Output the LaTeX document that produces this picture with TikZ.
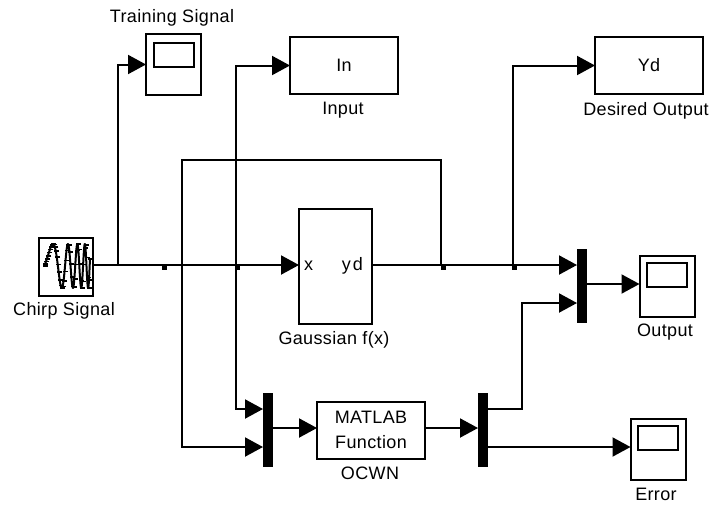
\documentclass[tikz,border=0pt]{standalone}
\usepackage{fontspec}
\setmainfont[LetterSpace=2]{Liberation Sans}
\usepackage{tikz}
\usetikzlibrary{arrows.meta,plotmarks}

\begin{document}
\begin{tikzpicture}[x=1pt, y=-1pt, >={Triangle[length=18pt,width=19pt]}, line width=2pt,
    block/.style={draw, rectangle, inner sep=0pt, outer sep=0pt},
    scopebox/.style={block, minimum width=55pt, minimum height=61pt},
    scopescreen/.style={block, minimum width=40pt, minimum height=24pt},
    gain/.style={block, minimum width=108pt, minimum height=57pt},
    mux/.style={rectangle, fill=black, inner sep=0pt, outer sep=0pt, minimum width=10pt, minimum height=74pt},
    joint/.style={rectangle, fill=black, inner sep=0pt, minimum size=5pt},
    tag/.style={inner sep=0pt, font=\fontsize{18}{22}\selectfont}]
    \useasboundingbox (0,0) rectangle (711,504);

    % Nodes {sources, scopes, blocks}
    \node [block, minimum width=54pt, minimum height=58pt] (chirp)  at (66,267)  {};
    \node [scopebox]                                       (train)  at (173.5,64.5) {};
    \node [scopescreen]                                    (trains) at (174,54.5) {};
    \node [gain, font=\fontsize{18}{22}\selectfont]        (inp)    at (344,65.5) {In};
    \node [gain, font=\fontsize{18}{22}\selectfont]        (yd)     at (649,65.5) {Yd};
    \node [block, minimum width=73pt, minimum height=115pt] (gauss) at (335.5,266.5) {};
    \node [scopebox]                                       (out)    at (667,286) {};
    \node [scopescreen]                                    (outs)   at (667,274.5) {};
    \node [scopebox]                                       (err)    at (658,449) {};
    \node [scopescreen]                                    (errs)   at (658,437.5) {};
    \node [mux] (mux1) at (268,430) {};
    \node [mux] (mux2) at (483,430) {};
    \node [mux] (mux3) at (582,286) {};
    \node [block, minimum width=108pt, minimum height=57pt, align=center,
           font=\fontsize{18}{25}\selectfont] (ocwn) at (371,430) {MATLAB\\Function};

    % Text
    \node [tag] (ltrain) at (172,18)  {Training Signal};
    \node [tag] (linp)   at (343,110) {Input};
    \node [tag] (lyd)    at (646,111) {Desired Output};
    \node [tag] (lchirp) at (64,311)  {Chirp Signal};
    \node [tag] (lgauss) at (334,340) {Gaussian f(x)};
    \node [tag] (lout)   at (665,332) {Output};
    \node [tag] (locwn)  at (370,473) {OCWN};
    \node [tag] (lerr)   at (656,494) {Error};
    \node [tag, anchor=west] (px) at (303,266) {x};
    \node [tag, anchor=east] (py) at (364,266) {y\kern2pt d};

    % Branch points
    \coordinate (j1) at (118,265);
    \coordinate (j2) at (182,265);
    \coordinate (j3) at (236,265);
    \coordinate (j4) at (441,265);
    \coordinate (j5) at (513,265);
    \coordinate (in3) at (577,265);
    \coordinate (up3) at (577,303);
    \coordinate (in1a) at (263,409);
    \coordinate (in1b) at (263,447);
    \coordinate (on2a) at (488,409);
    \coordinate (on2b) at (488,447);
    \coordinate (in2) at (478,428);
    \coordinate (on1) at (273,428);
    \coordinate (on3) at (587,284);
    \coordinate (top) at (182,160);
    \coordinate (top2) at (441,160);
    \coordinate (riser) at (522,409);
    \node [joint] (d1) at (164.5,267) {};
    \node [joint] (d2) at (237,267) {};
    \node [joint] (d3) at (443,267) {};
    \node [joint] (d4) at (514.5,267) {};

    % Paths
    \path [-]  (chirp.east |- j1) edge (j3);
    \path [->] (j3) edge (gauss.west |- j3);
    \path [-]  (gauss.east |- j5) edge (j5);
    \path [->] (j5) edge (in3);
    \draw [->] (j1) |- (train.west);
    \draw [->] (j3) |- (inp.west);
    \draw [->] (j5) |- (yd.west);
    \draw [->] (j3) |- (in1a);
    \draw [->] (j4) -- (top2) -- (top) -- (j2) |- (in1b);
    \path [->] (on1) edge (ocwn.west |- on1);
    \path [->] (ocwn.east |- in2) edge (in2);
    \draw [->] (on2a) -- (riser) |- (up3);
    \path [->] (on2b) edge (err.west |- on2b);
    \path [->] (on3) edge (out.west |- on3);

    % Chirp icon
    \draw [line width=2pt, line join=round, domain=0:1, samples=200, smooth]
        plot ({44+46*\x}, {266-22*sin(221*\x+1238*\x*\x)});
    \draw [line width=1.6pt, domain=0:1, samples=48, only marks, mark=-, mark size=2.5pt]
        plot ({45+46*\x}, {266-22*sin(221*\x+1238*\x*\x)});
\end{tikzpicture}
\end{document}
